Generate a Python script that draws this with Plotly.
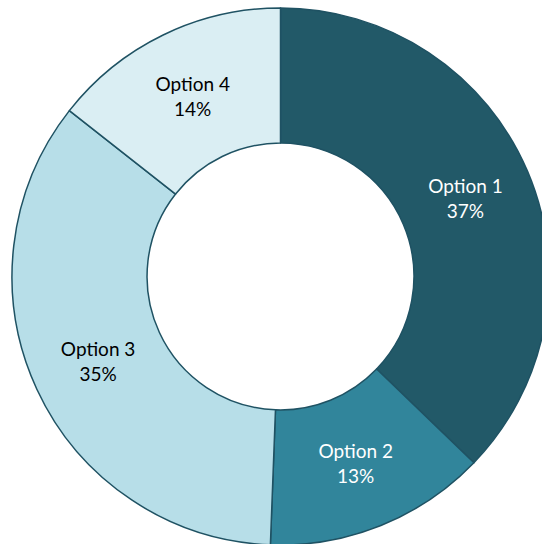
import plotly.graph_objects as go

labels = ["Option 1", "Option 2", "Option 3", "Option 4"]
values = [37.2, 13.4, 35.0, 14.4]
colors = ["#225968", "#31859B", "#B7DEE8", "#DAEEF3"]
text_colors = ["#FFFFFF", "#FFFFFF", "#000000", "#000000"]

fig = go.Figure(go.Pie(
    labels=labels,
    values=values,
    hole=0.497,
    sort=False,
    direction="clockwise",
    rotation=0,
    marker=dict(colors=colors, line=dict(color="#1F5263", width=1.5)),
    texttemplate="%{label}<br>%{percent:.0%}",
    textposition="inside",
    insidetextorientation="horizontal",
    textfont=dict(family="Lato", size=19, color=text_colors),
    showlegend=False,
    domain=dict(x=[0, 1], y=[0, 1]),
))

fig.update_layout(
    width=549,
    height=545,
    margin=dict(l=12, r=0, t=8, b=0, pad=0),
    paper_bgcolor="white",
    plot_bgcolor="white",
    showlegend=False,
)

fig.write_html(
    "out.html",
    config={"displayModeBar": False},
    post_script="document.body.style.margin='0';document.documentElement.style.overflow='hidden';document.body.style.overflow='hidden';",
)
